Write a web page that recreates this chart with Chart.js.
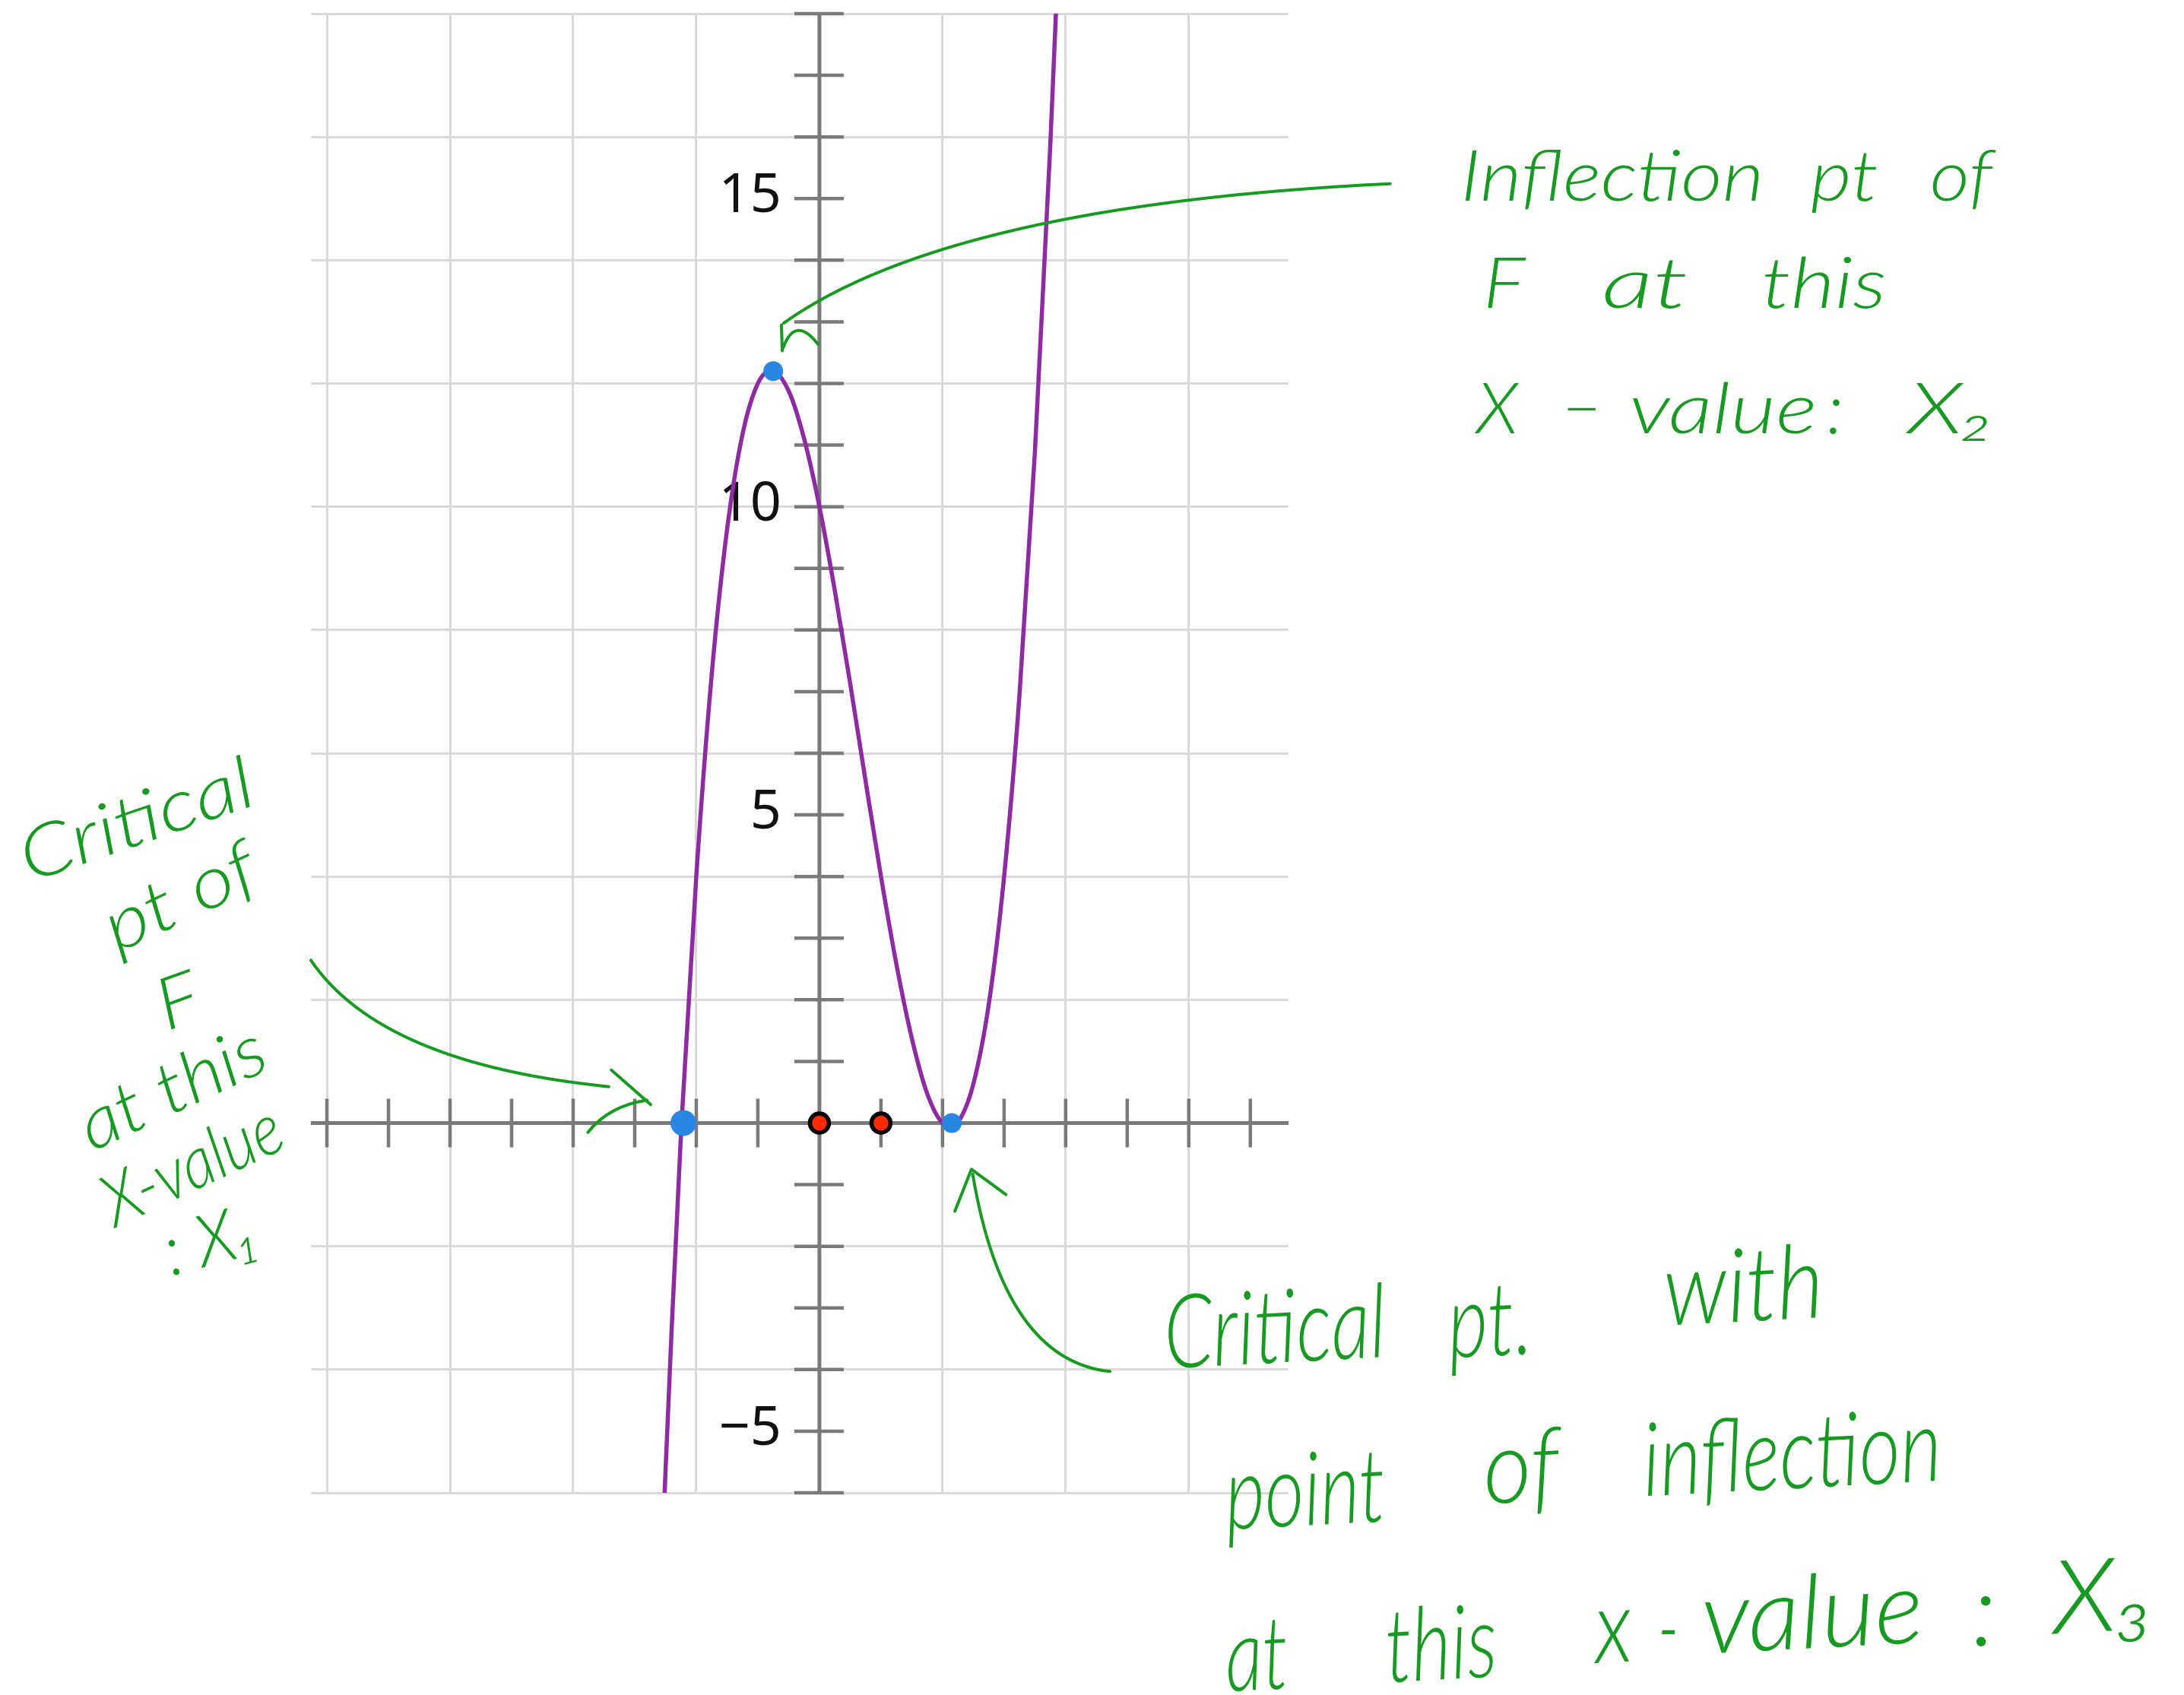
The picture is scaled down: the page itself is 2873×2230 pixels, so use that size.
<!DOCTYPE html>
<html>
  <head>
    <title>Critical points and inflection points of F</title>
    <script src="https://cdn.jsdelivr.net/npm/chart.js"></script>
    <style>
      body { margin: 0; background: #ffffff; }
    </style>
  </head>
  <body>
    <canvas id="graph" width="2873" height="2230"></canvas>
    <script>
      // window of the plot
      var xMin = -8.26, xMax = 7.62;
      var yMin = -6, yMax = 18;

      // grid every 2 units, tick marks every unit
      var xGrid = [-8, -6, -4, -2, 0, 2, 4, 6];
      var yGrid = [-6, -4, -2, 0, 2, 4, 6, 8, 10, 12, 14, 16, 18];
      var xTicks = [-8, -7, -6, -5, -4, -3, -2, -1, 1, 2, 3, 4, 5, 6, 7];
      var yTicks = [-6, -5, -4, -3, -2, -1, 1, 2, 3, 4, 5, 6, 7, 8, 9, 10, 11, 12, 13, 14, 15, 16, 17, 18];
      var yLabelValues = [15, 10, 5, -5];
      var yLabels = ["15", "10", "5", "\u22125"];

      // the graph of f
      var curveX = [-2.55, -2.4, -2.24, -2.0, -1.75, -1.5, -1.25, -1.0, -0.78, -0.5, -0.25, 0, 0.25, 0.5, 0.75, 1.0, 1.25, 1.5, 1.75, 2.0, 2.15, 2.3, 2.5, 2.75, 3.0, 3.25, 3.5, 3.75, 3.9];
      var curveY = [-6.84, -3.34, 0, 4.0, 7.27, 9.63, 11.17, 12.0, 12.21, 11.88, 11.11, 10.0, 8.64, 7.13, 5.55, 4.0, 2.58, 1.38, 0.48, 0.0, -0.05, 0.09, 0.63, 1.92, 4.0, 6.95, 10.88, 15.86, 19.4];

      // marked points: x1, x2, x3 in blue, two red points on the x-axis
      var blueX = [-2.21, -0.75, 2.15];
      var blueY = [0, 12.2, 0];
      var redX = [0, 1];
      var redY = [0, 0];

      var green = "#179a22";
      var noteFont = 'Lato, "DejaVu Sans", sans-serif';

      // handwritten notes, placed in chart units (w = width in x units)
      var notes = [
        { t: "Inflection", x: 12.88, y: 15.33, w: 4.93, size: 92, rot: 0 },
        { t: "pt", x: 16.65, y: 15.33, w: 1.1, size: 92, rot: 0 },
        { t: "of", x: 18.55, y: 15.33, w: 1.02, size: 92, rot: 0 },
        { t: "F", x: 11.12, y: 13.59, w: 0.68, size: 92, rot: 0 },
        { t: "at", x: 13.41, y: 13.59, w: 1.4, size: 92, rot: 0 },
        { t: "this", x: 16.32, y: 13.59, w: 2.03, size: 92, rot: 0 },
        { t: "X", x: 11.01, y: 11.56, w: 0.68, size: 92, rot: 0 },
        { t: "\u2212", x: 12.38, y: 11.56, w: 0.63, size: 92, rot: 0 },
        { t: "value", x: 14.68, y: 11.56, w: 3.05, size: 92, rot: 0 },
        { t: ":", x: 16.5, y: 11.56, w: 0, size: 92, rot: 0 },
        { t: "X\u2082", x: 18.38, y: 11.56, w: 1.4, size: 92, rot: 0 },

        { t: "Critical", x: -11.09, y: 4.9, w: 3.95, size: 95, rot: -19 },
        { t: "pt of", x: -10.38, y: 3.65, w: 2.62, size: 95, rot: -25 },
        { t: "F", x: -10.41, y: 1.96, w: 0.68, size: 95, rot: -20 },
        { t: "at this", x: -10.51, y: 0.555, w: 3.23, size: 95, rot: -25 },
        { t: "X-value", x: -10.19, y: -0.7, w: 3.12, size: 95, rot: -25 },
        { t: ": X\u2081", x: -9.89, y: -1.92, w: 1.52, size: 95, rot: -15 },

        { t: "Critical", x: 7.4, y: -3.35, w: 3.61, size: 135, rot: -3 },
        { t: "pt.", x: 10.89, y: -3.24, w: 1.36, size: 135, rot: -3 },
        { t: "with", x: 15.01, y: -2.68, w: 2.6, size: 135, rot: -3 },
        { t: "point", x: 7.89, y: -5.99, w: 2.6, size: 135, rot: -3 },
        { t: "of", x: 11.4, y: -5.61, w: 1.24, size: 135, rot: -3 },
        { t: "inflection", x: 15.8, y: -5.39, w: 4.86, size: 135, rot: -3 },
        { t: "at", x: 7.1, y: -8.66, w: 1.02, size: 135, rot: -3 },
        { t: "this", x: 10.1, y: -8.49, w: 1.81, size: 135, rot: -3 },
        { t: "x", x: 12.89, y: -8.21, w: 0.61, size: 135, rot: -3 },
        { t: "-", x: 13.79, y: -8.21, w: 0.34, size: 135, rot: 0 },
        { t: "value", x: 16.13, y: -7.98, w: 3.6, size: 135, rot: -3 },
        { t: ":", x: 18.92, y: -7.94, w: 0, size: 135, rot: 0 },
        { t: "X\u2083", x: 20.84, y: -7.71, w: 1.63, size: 135, rot: -3 },
      ];

      // arrow strokes in chart units (q = quadratic curve, l = polyline)
      var strokes = [
        { kind: "q", pts: [[9.27, 15.24], [2.13, 14.9], [-0.58, 12.98]] },
        { kind: "l", pts: [[-0.617, 12.95], [-0.604, 12.53]] },
        { kind: "q", pts: [[-0.59, 12.58], [-0.39, 13.11], [-0.025, 12.64]] },
        { kind: "q", pts: [[-8.26, 2.64], [-7.12, 0.96], [-3.42, 0.59]] },
        { kind: "l", pts: [[-3.38, 0.86], [-2.74, 0.3]] },
        { kind: "q", pts: [[-3.76, -0.15], [-3.42, 0.28], [-2.8, 0.37]] },
        { kind: "q", pts: [[4.72, -4.03], [3.0, -3.85], [2.49, -0.83]] },
        { kind: "l", pts: [[2.2, -1.43], [2.47, -0.75], [3.03, -1.16]] },
      ];

      function toPx(chart, p) {
        return [chart.scales.x.getPixelForValue(p[0]), chart.scales.y.getPixelForValue(p[1])];
      }

      // axes through the origin with crossing tick marks and the y labels
      var axesPlugin = {
        id: "axes",
        beforeDatasetsDraw: function (chart) {
          var ctx = chart.ctx;
          var area = chart.chartArea;
          var xs = chart.scales.x, ys = chart.scales.y;
          var x0 = xs.getPixelForValue(0), y0 = ys.getPixelForValue(0);
          ctx.save();
          ctx.strokeStyle = "#7a7a7a";
          ctx.lineWidth = 5;
          ctx.beginPath();
          ctx.moveTo(area.left, y0);
          ctx.lineTo(area.right, y0);
          ctx.moveTo(x0, area.top);
          ctx.lineTo(x0, area.bottom);
          ctx.stroke();
          ctx.lineWidth = 4.5;
          ctx.beginPath();
          xTicks.forEach(function (v) {
            var p = xs.getPixelForValue(v);
            ctx.moveTo(p, y0 - 32);
            ctx.lineTo(p, y0 + 32);
          });
          yTicks.forEach(function (v) {
            var p = ys.getPixelForValue(v);
            ctx.moveTo(x0 - 33, p);
            ctx.lineTo(x0 + 32, p);
          });
          ctx.stroke();
          ctx.fillStyle = "#111111";
          ctx.font = '72px "Noto Sans"';
          ctx.textAlign = "right";
          ctx.textBaseline = "alphabetic";
          yLabelValues.forEach(function (v, i) {
            ctx.fillText(yLabels[i], x0 - 50, ys.getPixelForValue(v) + 18);
          });
          ctx.restore();
        },
        afterDraw: function (chart) {
          var ctx = chart.ctx;
          var unit = chart.scales.x.getPixelForValue(1) - chart.scales.x.getPixelForValue(0);
          ctx.save();
          ctx.strokeStyle = green;
          ctx.fillStyle = green;
          ctx.lineWidth = 4;
          ctx.lineCap = "round";
          ctx.lineJoin = "round";
          strokes.forEach(function (s) {
            var p = s.pts.map(function (q) { return toPx(chart, q); });
            ctx.beginPath();
            ctx.moveTo(p[0][0], p[0][1]);
            if (s.kind === "q") {
              ctx.quadraticCurveTo(p[1][0], p[1][1], p[2][0], p[2][1]);
            } else {
              for (var i = 1; i < p.length; i++) ctx.lineTo(p[i][0], p[i][1]);
            }
            ctx.stroke();
          });
          notes.forEach(function (n) {
            var p = toPx(chart, [n.x, n.y]);
            ctx.save();
            ctx.translate(p[0], p[1]);
            ctx.rotate((n.rot * Math.PI) / 180);
            ctx.font = "italic 300 " + n.size + "px " + noteFont;
            ctx.textAlign = "center";
            ctx.textBaseline = "middle";
            if (n.w) {
              var m = ctx.measureText(n.t).width;
              ctx.scale((n.w * unit) / m, 1);
            }
            ctx.fillText(n.t, 0, 0);
            ctx.restore();
          });
          ctx.restore();
        },
      };

      function pairs(xv, yv) {
        return xv.map(function (x, i) { return { x: x, y: yv[i] }; });
      }

      var ctx = document.getElementById("graph").getContext("2d");
      var chart = new Chart(ctx, {
        type: "scatter",
        data: {
          datasets: [
            {
              label: "x1, x2, x3",
              data: pairs(blueX, blueY),
              pointRadius: [17, 13, 13],
              pointBackgroundColor: "#2887e1",
              pointBorderWidth: 0,
              showLine: false,
            },
            {
              label: "marked",
              data: pairs(redX, redY),
              pointRadius: 12.5,
              pointBackgroundColor: "#ff2a00",
              pointBorderColor: "#000000",
              pointBorderWidth: 5.5,
              showLine: false,
            },
            {
              label: "f",
              data: pairs(curveX, curveY),
              showLine: true,
              borderColor: "#8e2aa2",
              borderWidth: 5.5,
              pointRadius: 0,
              cubicInterpolationMode: "monotone",
            },
          ],
        },
        options: {
          responsive: false,
          animation: false,
          layout: { padding: { left: 409, right: 1178, top: 18, bottom: 266 } },
          plugins: { legend: { display: false }, tooltip: { enabled: false } },
          scales: {
            x: {
              type: "linear",
              min: xMin,
              max: xMax,
              afterBuildTicks: function (s) {
                s.ticks = xGrid.map(function (v) { return { value: v }; });
              },
              ticks: { display: false },
              grid: { color: "#d9d9d9", lineWidth: 3, drawTicks: false },
              border: { display: false },
            },
            y: {
              type: "linear",
              min: yMin,
              max: yMax,
              afterBuildTicks: function (s) {
                s.ticks = yGrid.map(function (v) { return { value: v }; });
              },
              ticks: { display: false },
              grid: { color: "#d9d9d9", lineWidth: 3, drawTicks: false },
              border: { display: false },
            },
          },
        },
        plugins: [axesPlugin],
      });
    </script>
  </body>
</html>
